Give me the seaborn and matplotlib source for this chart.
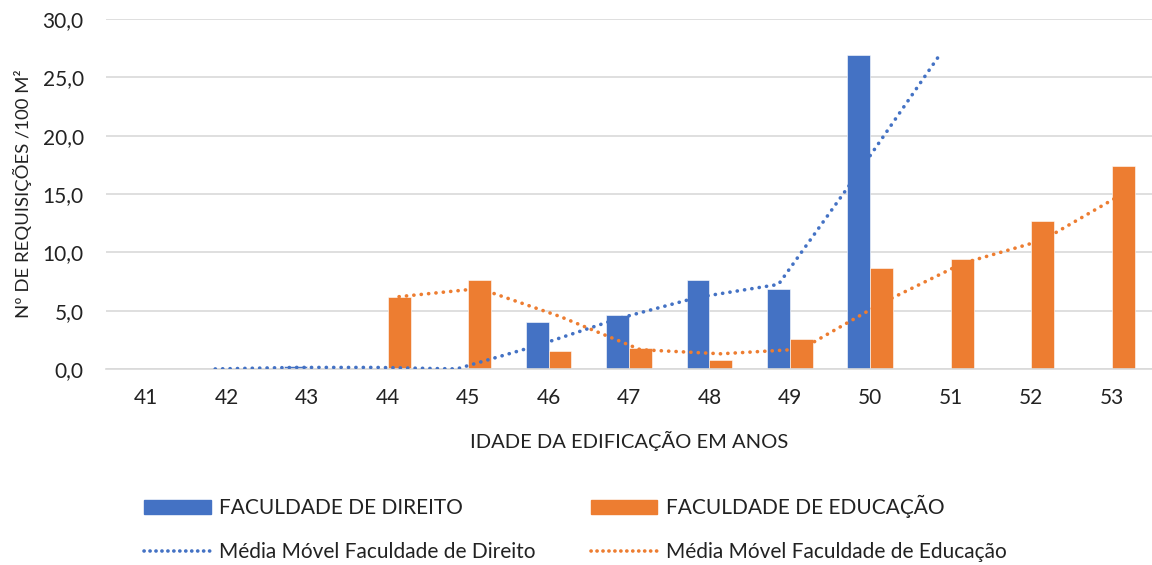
#!/usr/bin/env python3
"""Requisições por 100 m² vs idade da edificação, com médias móveis."""

import matplotlib
matplotlib.use("Agg")
import matplotlib.pyplot as plt
import numpy as np
import pandas as pd
import seaborn as sns
from matplotlib.ticker import FuncFormatter

# --- data -----------------------------------------------------------------
IDADES = [41, 42, 43, 44, 45, 46, 47, 48, 49, 50, 51, 52, 53]
DIREITO = [0.0, 0.0, 0.26, 0.0, 0.0, 4.0, 4.6, 7.6, 6.9, 26.9, np.nan, np.nan, np.nan]
EDUCACAO = [np.nan, np.nan, np.nan, 6.2, 7.6, 1.5, 1.8, 0.8, 2.6, 8.7, 9.4, 12.7, 17.4]
MM_DIREITO = [np.nan, 0.0, 0.13, 0.13, 0.0, 2.0, 4.3, 6.15, 7.25, 16.9, 26.9, np.nan, np.nan]
MM_EDUCACAO = [np.nan, np.nan, np.nan, 6.2, 6.9, 4.5, 1.65, 1.3, 1.7, 5.65, 9.05, 11.05, 15.05]

SERIES = ["FACULDADE DE DIREITO", "FACULDADE DE EDUCAÇÃO"]
MM_LABELS = ["Média Móvel Faculdade de Direito", "Média Móvel Faculdade de Educação"]
COLORS = ["#4472C4", "#ED7D31"]
TEXT = "#222222"

BAR_WIDTH = 0.57

sns.set_theme(style="white")
plt.rcParams["font.family"] = ["Lato", "DejaVu Sans"]

df = pd.DataFrame({
    "idade": [str(i) for i in IDADES] * 2,
    "valor": DIREITO + EDUCACAO,
    "serie": [SERIES[0]] * len(IDADES) + [SERIES[1]] * len(IDADES),
})

fig = plt.figure(figsize=(11.52, 5.65), dpi=100)
ax = fig.add_axes([0.092, 0.347, 0.908, 0.619])

sns.barplot(
    data=df, x="idade", y="valor", hue="serie",
    palette=COLORS, width=BAR_WIDTH, saturation=1,
    edgecolor="white", linewidth=0.4, legend=False, ax=ax,
)

# moving averages sit over the centre of each series' bar
xpos = np.arange(len(IDADES))
offset = BAR_WIDTH / 4
dot = (0, (0.05, 2.0))
ax.plot(xpos - offset, MM_DIREITO, color=COLORS[0], lw=2.6, ls=dot,
        dash_capstyle="round", zorder=4)
ax.plot(xpos + offset, MM_EDUCACAO, color=COLORS[1], lw=2.6, ls=dot,
        dash_capstyle="round", zorder=4)

ax.set_xlim(-0.5, len(IDADES) - 0.5)
ax.set_ylim(0, 30)
ax.set_yticks(np.arange(0, 31, 5))
ax.yaxis.set_major_formatter(FuncFormatter(lambda v, _: f"{v:.1f}".replace(".", ",")))
ax.grid(axis="y", color="#D9D9D9", lw=1.2)
ax.set_axisbelow(True)
for side in ("top", "right", "left"):
    ax.spines[side].set_visible(False)
ax.spines["bottom"].set_color("#D9D9D9")
ax.spines["bottom"].set_linewidth(1.2)
ax.tick_params(axis="both", length=0, labelsize=15, colors=TEXT)
ax.tick_params(axis="x", pad=14)
ax.tick_params(axis="y", pad=16)

ax.set_xlabel("IDADE DA EDIFICAÇÃO EM ANOS", fontsize=14.5, color=TEXT, labelpad=16)
ax.set_ylabel("Nº DE REQUISIÇÕES /100 M²", fontsize=13.3, color=TEXT, labelpad=8)

dot_h = (0, (0.05, 1.6))
handles = [
    plt.Rectangle((0, 0), 1, 1, color=COLORS[0]),
    plt.Line2D([], [], color=COLORS[0], lw=2.6, ls=dot_h, dash_capstyle="round"),
    plt.Rectangle((0, 0), 1, 1, color=COLORS[1]),
    plt.Line2D([], [], color=COLORS[1], lw=2.6, ls=dot_h, dash_capstyle="round"),
]
labels = [SERIES[0], MM_LABELS[0], SERIES[1], MM_LABELS[1]]
fig.legend(
    handles, labels, ncol=2, loc="upper left", bbox_to_anchor=(0.116, 0.142),
    frameon=False, fontsize=15, handlelength=3.2, handleheight=0.63,
    handletextpad=0.4, labelspacing=1.15, columnspacing=2.65, borderpad=0,
    labelcolor=TEXT,
)

fig.savefig("out.png", dpi=100)
